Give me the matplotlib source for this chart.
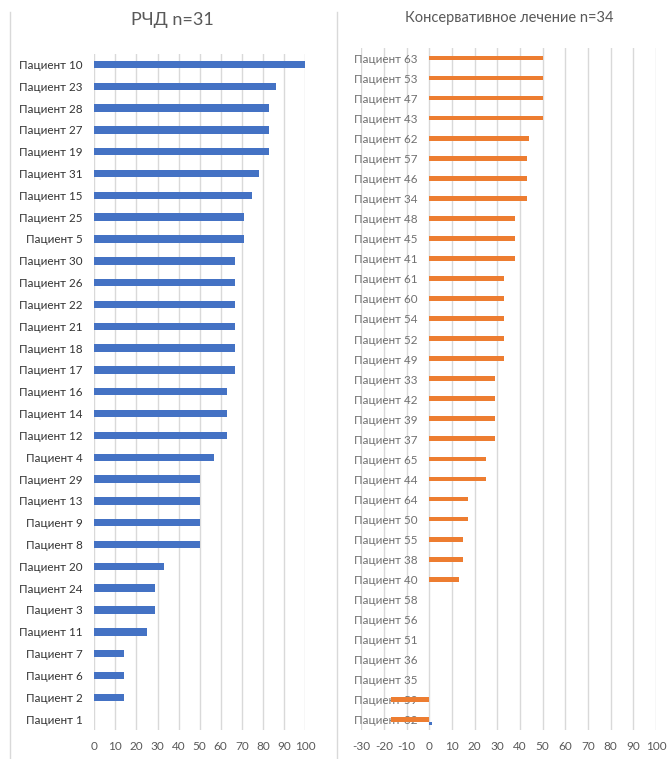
import matplotlib
matplotlib.use('Agg')
import matplotlib.pyplot as plt
from matplotlib.lines import Line2D
import numpy as np

plt.rcParams['font.family'] = ['Lato', 'DejaVu Sans']
plt.rcParams['axes.unicode_minus'] = False

# --- данные: РЧД (сверху вниз)
rchd_patients = [10, 23, 28, 27, 19, 31, 15, 25, 5, 30, 26, 22, 21, 18, 17, 16,
                 14, 12, 4, 29, 13, 9, 8, 20, 24, 3, 11, 7, 6, 2, 1]
rchd_values = [100, 86, 83, 83, 83, 78, 75, 71, 71, 67, 67, 67, 67, 67, 67, 63,
               63, 63, 57, 50, 50, 50, 50, 33, 29, 29, 25, 14, 14, 14, 0]

# --- данные: консервативное лечение (сверху вниз)
cons_patients = [63, 53, 47, 43, 62, 57, 46, 34, 48, 45, 41, 61, 60, 54, 52, 49,
                 33, 42, 39, 37, 65, 44, 64, 50, 55, 38, 40, 58, 56, 51, 36, 35,
                 59, 32]
cons_values = [50, 50, 50, 50, 44, 43, 43, 43, 38, 38, 38, 33, 33, 33, 33, 33,
               29, 29, 29, 29, 25, 25, 17, 17, 15, 15, 13, 0, 0, 0, 0, 0,
               -17, -17]
cons_second = [0] * 33 + [1]

BLUE = '#4472C4'
ORANGE = '#ED7D31'
GRID = '#D9D9D9'
TXT = '#595959'

W, H = 670, 759
fig = plt.figure(figsize=(W / 100, H / 100), dpi=100)


def ax_box(x0, x1, y0, y1):
    # пиксели -> доли фигуры
    return [x0 / W, (H - y1) / H, (x1 - x0) / W, (y1 - y0) / H]


# рамки диаграмм
for xb in (9.5, 337.5):
    fig.add_artist(Line2D([xb / W, xb / W], [0, (H - 12) / H],
                          color=GRID, lw=1))

# ---------- левая диаграмма
ax1 = fig.add_axes(ax_box(94.3, 305, 53.5, 730))
n1 = len(rchd_patients)
y1 = np.arange(n1)[::-1]
ax1.barh(y1, rchd_values, height=0.34, color=BLUE, zorder=3)
ax1.set_ylim(-0.5, n1 - 0.5)
ax1.set_xlim(0, 100)
ax1.set_xticks(np.arange(0, 101, 10))
ax1.set_yticks(y1)
ax1.set_yticklabels(['Пациент ' + str(p) for p in rchd_patients],
                    fontsize=8.4, color='#333333')
ax1.tick_params(axis='y', length=0, pad=8.4)
ax1.tick_params(axis='x', length=0, pad=8, labelsize=8.5, labelcolor=TXT)
ax1.grid(axis='x', color=GRID, lw=1, zorder=0)
for s in ax1.spines.values():
    s.set_visible(False)
fig.text(172 / W, (H - 20) / H, 'РЧД n=31', fontsize=13, color=TXT,
         ha='center', va='center')

# ---------- правая диаграмма
ax2 = fig.add_axes(ax_box(361.3, 656, 48.3, 730))
# подписи у нулевой линии, как в Excel (до настройки подписей!)
ax2.spines['left'].set_position(('data', 0))
n2 = len(cons_patients)
y2 = np.arange(n2)[::-1]
ax2.barh(y2 + 0.02, cons_values, height=0.24, color=ORANGE, zorder=3)
ax2.barh(y2 - 0.16, cons_second, height=0.15, color=BLUE, zorder=3)
ax2.set_ylim(-0.5, n2 - 0.5)
ax2.set_xlim(-30, 100)
ax2.set_xticks(np.arange(-30, 101, 10))
ax2.set_yticks(y2)
ax2.set_yticklabels(['Пациент ' + str(p) for p in cons_patients],
                    fontsize=8.4, color='#707070')
ax2.tick_params(axis='y', length=0, pad=8.4)
ax2.tick_params(axis='x', length=0, pad=8, labelsize=8.5, labelcolor=TXT)
ax2.grid(axis='x', color=GRID, lw=1, zorder=0)
for s in ax2.spines.values():
    s.set_visible(False)
fig.text(509 / W, (H - 18) / H, 'Консервативное лечение n=34', fontsize=10.5,
         color=TXT, ha='center', va='center')

fig.savefig('out.png', dpi=100)
